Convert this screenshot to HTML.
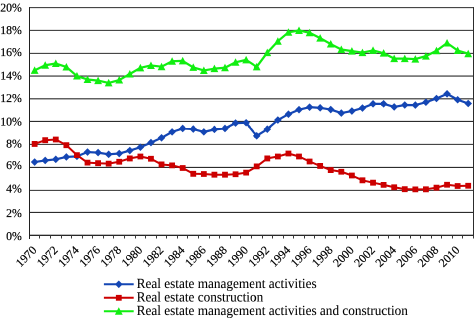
<!DOCTYPE html><html><head><meta charset="utf-8"><style>html,body{margin:0;padding:0;background:#fff;width:475px;height:319px;overflow:hidden}#clip{position:relative;width:475px;height:319px;overflow:hidden}#wrap{position:absolute;left:0;top:0;width:950px;height:638px;transform:scale(0.5);transform-origin:0 0;will-change:transform}svg{display:block}text{font-family:"Liberation Serif",serif;fill:#000;stroke:#000;stroke-width:0.18px;text-rendering:geometricPrecision}</style></head><body>
<div id="clip"><div id="wrap"><svg width="950" height="638" viewBox="0 0 475 319">
<rect width="475" height="319" fill="#fff"/>
<g>
<line x1="29" y1="235.35" x2="474" y2="235.35" stroke="#2c2c2c" stroke-width="1.1"/>
<line x1="29" y1="212.48" x2="474" y2="212.48" stroke="#2c2c2c" stroke-width="1.1"/>
<line x1="29" y1="190.38" x2="474" y2="190.38" stroke="#2c2c2c" stroke-width="1.1"/>
<line x1="29" y1="167.48" x2="474" y2="167.48" stroke="#2c2c2c" stroke-width="1.1"/>
<line x1="29" y1="144.38" x2="474" y2="144.38" stroke="#2c2c2c" stroke-width="1.1"/>
<line x1="29" y1="121.44" x2="474" y2="121.44" stroke="#2c2c2c" stroke-width="1.1"/>
<line x1="29" y1="98.82" x2="474" y2="98.82" stroke="#2c2c2c" stroke-width="1.1"/>
<line x1="29" y1="76.10" x2="474" y2="76.10" stroke="#2c2c2c" stroke-width="1.1"/>
<line x1="29" y1="53.38" x2="474" y2="53.38" stroke="#2c2c2c" stroke-width="1.1"/>
<line x1="29" y1="30.38" x2="474" y2="30.38" stroke="#2c2c2c" stroke-width="1.1"/>
<line x1="29" y1="7.63" x2="474" y2="7.63" stroke="#2c2c2c" stroke-width="1.1"/>
<line x1="473.5" y1="7.13" x2="473.5" y2="235.35" stroke="#2c2c2c" stroke-width="1"/>
<line x1="29.5" y1="7.13" x2="29.5" y2="238.95" stroke="#202020" stroke-width="1"/>
<line x1="29" y1="235.35" x2="474" y2="235.35" stroke="#202020" stroke-width="1"/>
<line x1="39.50" y1="235.35" x2="39.50" y2="238.45" stroke="#383838" stroke-width="1"/>
<line x1="50.50" y1="235.35" x2="50.50" y2="238.45" stroke="#383838" stroke-width="1"/>
<line x1="61.50" y1="235.35" x2="61.50" y2="238.45" stroke="#383838" stroke-width="1"/>
<line x1="71.50" y1="235.35" x2="71.50" y2="238.45" stroke="#383838" stroke-width="1"/>
<line x1="82.50" y1="235.35" x2="82.50" y2="238.45" stroke="#383838" stroke-width="1"/>
<line x1="92.50" y1="235.35" x2="92.50" y2="238.45" stroke="#383838" stroke-width="1"/>
<line x1="103.50" y1="235.35" x2="103.50" y2="238.45" stroke="#383838" stroke-width="1"/>
<line x1="113.50" y1="235.35" x2="113.50" y2="238.45" stroke="#383838" stroke-width="1"/>
<line x1="124.50" y1="235.35" x2="124.50" y2="238.45" stroke="#383838" stroke-width="1"/>
<line x1="135.50" y1="235.35" x2="135.50" y2="238.45" stroke="#383838" stroke-width="1"/>
<line x1="145.50" y1="235.35" x2="145.50" y2="238.45" stroke="#383838" stroke-width="1"/>
<line x1="156.50" y1="235.35" x2="156.50" y2="238.45" stroke="#383838" stroke-width="1"/>
<line x1="166.50" y1="235.35" x2="166.50" y2="238.45" stroke="#383838" stroke-width="1"/>
<line x1="177.50" y1="235.35" x2="177.50" y2="238.45" stroke="#383838" stroke-width="1"/>
<line x1="187.50" y1="235.35" x2="187.50" y2="238.45" stroke="#383838" stroke-width="1"/>
<line x1="198.50" y1="235.35" x2="198.50" y2="238.45" stroke="#383838" stroke-width="1"/>
<line x1="209.50" y1="235.35" x2="209.50" y2="238.45" stroke="#383838" stroke-width="1"/>
<line x1="219.50" y1="235.35" x2="219.50" y2="238.45" stroke="#383838" stroke-width="1"/>
<line x1="230.50" y1="235.35" x2="230.50" y2="238.45" stroke="#383838" stroke-width="1"/>
<line x1="240.50" y1="235.35" x2="240.50" y2="238.45" stroke="#383838" stroke-width="1"/>
<line x1="251.50" y1="235.35" x2="251.50" y2="238.45" stroke="#383838" stroke-width="1"/>
<line x1="262.50" y1="235.35" x2="262.50" y2="238.45" stroke="#383838" stroke-width="1"/>
<line x1="272.50" y1="235.35" x2="272.50" y2="238.45" stroke="#383838" stroke-width="1"/>
<line x1="283.50" y1="235.35" x2="283.50" y2="238.45" stroke="#383838" stroke-width="1"/>
<line x1="293.50" y1="235.35" x2="293.50" y2="238.45" stroke="#383838" stroke-width="1"/>
<line x1="304.50" y1="235.35" x2="304.50" y2="238.45" stroke="#383838" stroke-width="1"/>
<line x1="314.50" y1="235.35" x2="314.50" y2="238.45" stroke="#383838" stroke-width="1"/>
<line x1="325.50" y1="235.35" x2="325.50" y2="238.45" stroke="#383838" stroke-width="1"/>
<line x1="336.50" y1="235.35" x2="336.50" y2="238.45" stroke="#383838" stroke-width="1"/>
<line x1="346.50" y1="235.35" x2="346.50" y2="238.45" stroke="#383838" stroke-width="1"/>
<line x1="357.50" y1="235.35" x2="357.50" y2="238.45" stroke="#383838" stroke-width="1"/>
<line x1="367.50" y1="235.35" x2="367.50" y2="238.45" stroke="#383838" stroke-width="1"/>
<line x1="378.50" y1="235.35" x2="378.50" y2="238.45" stroke="#383838" stroke-width="1"/>
<line x1="388.50" y1="235.35" x2="388.50" y2="238.45" stroke="#383838" stroke-width="1"/>
<line x1="399.50" y1="235.35" x2="399.50" y2="238.45" stroke="#383838" stroke-width="1"/>
<line x1="410.50" y1="235.35" x2="410.50" y2="238.45" stroke="#383838" stroke-width="1"/>
<line x1="420.50" y1="235.35" x2="420.50" y2="238.45" stroke="#383838" stroke-width="1"/>
<line x1="431.50" y1="235.35" x2="431.50" y2="238.45" stroke="#383838" stroke-width="1"/>
<line x1="441.50" y1="235.35" x2="441.50" y2="238.45" stroke="#383838" stroke-width="1"/>
<line x1="452.50" y1="235.35" x2="452.50" y2="238.45" stroke="#383838" stroke-width="1"/>
<line x1="462.50" y1="235.35" x2="462.50" y2="238.45" stroke="#383838" stroke-width="1"/>
<line x1="473.50" y1="235.35" x2="473.50" y2="238.45" stroke="#383838" stroke-width="1"/>
<text transform="translate(21.9,239.85) scale(1.001)" font-size="11.8" text-anchor="end">0%</text>
<text transform="translate(21.9,216.95) scale(1.001)" font-size="11.8" text-anchor="end">2%</text>
<text transform="translate(21.9,192.55) scale(1.001)" font-size="11.8" text-anchor="end">4%</text>
<text transform="translate(21.9,168.75) scale(1.001)" font-size="11.8" text-anchor="end">6%</text>
<text transform="translate(21.9,147.35) scale(1.001)" font-size="11.8" text-anchor="end">8%</text>
<text transform="translate(21.9,125.45) scale(1.001)" font-size="11.8" text-anchor="end">10%</text>
<text transform="translate(21.9,102.00) scale(1.001)" font-size="11.8" text-anchor="end">12%</text>
<text transform="translate(21.9,79.25) scale(1.001)" font-size="11.8" text-anchor="end">14%</text>
<text transform="translate(21.9,56.15) scale(1.001)" font-size="11.8" text-anchor="end">16%</text>
<text transform="translate(21.9,33.85) scale(1.001)" font-size="11.8" text-anchor="end">18%</text>
<text transform="translate(21.9,11.55) scale(1.001)" font-size="11.8" text-anchor="end">20%</text>
<text transform="translate(37.34,250.8) rotate(-45)" font-size="11.9" text-anchor="end">1970</text>
<text transform="translate(58.49,250.8) rotate(-45)" font-size="11.9" text-anchor="end">1972</text>
<text transform="translate(79.64,250.8) rotate(-45)" font-size="11.9" text-anchor="end">1974</text>
<text transform="translate(100.79,250.8) rotate(-45)" font-size="11.9" text-anchor="end">1976</text>
<text transform="translate(121.94,250.8) rotate(-45)" font-size="11.9" text-anchor="end">1978</text>
<text transform="translate(143.09,250.8) rotate(-45)" font-size="11.9" text-anchor="end">1980</text>
<text transform="translate(164.24,250.8) rotate(-45)" font-size="11.9" text-anchor="end">1982</text>
<text transform="translate(185.39,250.8) rotate(-45)" font-size="11.9" text-anchor="end">1984</text>
<text transform="translate(206.54,250.8) rotate(-45)" font-size="11.9" text-anchor="end">1986</text>
<text transform="translate(227.69,250.8) rotate(-45)" font-size="11.9" text-anchor="end">1988</text>
<text transform="translate(248.84,250.8) rotate(-45)" font-size="11.9" text-anchor="end">1990</text>
<text transform="translate(269.99,250.8) rotate(-45)" font-size="11.9" text-anchor="end">1992</text>
<text transform="translate(291.14,250.8) rotate(-45)" font-size="11.9" text-anchor="end">1994</text>
<text transform="translate(312.29,250.8) rotate(-45)" font-size="11.9" text-anchor="end">1996</text>
<text transform="translate(333.44,250.8) rotate(-45)" font-size="11.9" text-anchor="end">1998</text>
<text transform="translate(354.59,250.8) rotate(-45)" font-size="11.9" text-anchor="end">2000</text>
<text transform="translate(375.74,250.8) rotate(-45)" font-size="11.9" text-anchor="end">2002</text>
<text transform="translate(396.89,250.8) rotate(-45)" font-size="11.9" text-anchor="end">2004</text>
<text transform="translate(418.04,250.8) rotate(-45)" font-size="11.9" text-anchor="end">2006</text>
<text transform="translate(439.19,250.8) rotate(-45)" font-size="11.9" text-anchor="end">2008</text>
<text transform="translate(460.34,250.8) rotate(-45)" font-size="11.9" text-anchor="end">2010</text>
<path d="M34.64,162.06 L45.21,160.47 L55.79,159.33 L66.36,156.94 L76.94,156.37 L87.51,152.04 L98.09,152.61 L108.66,154.32 L119.24,153.52 L129.81,150.56 L140.39,147.25 L150.96,142.58 L161.54,137.80 L172.11,131.87 L182.69,128.46 L193.26,129.02 L203.84,131.87 L214.41,129.37 L224.99,128.46 L235.56,123.10 L246.14,122.76 L256.71,135.86 L267.29,129.14 L277.86,120.03 L288.44,114.22 L299.01,109.66 L309.59,107.15 L320.16,107.84 L330.74,109.54 L341.31,113.08 L351.89,111.03 L362.46,108.06 L373.04,103.85 L383.61,103.85 L394.19,106.92 L404.76,104.99 L415.34,105.10 L425.91,102.25 L436.49,98.49 L447.06,93.82 L457.64,99.75 L468.21,103.51" fill="none" stroke="#1446b4" stroke-width="2.2" stroke-linejoin="round"/>
<path d="M34.64,158.26 L38.44,162.06 L34.64,165.86 L30.84,162.06Z M45.21,156.67 L49.01,160.47 L45.21,164.27 L41.41,160.47Z M55.79,155.53 L59.59,159.33 L55.79,163.13 L51.99,159.33Z M66.36,153.14 L70.16,156.94 L66.36,160.74 L62.56,156.94Z M76.94,152.57 L80.74,156.37 L76.94,160.17 L73.14,156.37Z M87.51,148.24 L91.31,152.04 L87.51,155.84 L83.71,152.04Z M98.09,148.81 L101.89,152.61 L98.09,156.41 L94.29,152.61Z M108.66,150.52 L112.46,154.32 L108.66,158.12 L104.86,154.32Z M119.24,149.72 L123.04,153.52 L119.24,157.32 L115.44,153.52Z M129.81,146.76 L133.61,150.56 L129.81,154.36 L126.01,150.56Z M140.39,143.45 L144.19,147.25 L140.39,151.05 L136.59,147.25Z M150.96,138.78 L154.76,142.58 L150.96,146.38 L147.16,142.58Z M161.54,134.00 L165.34,137.80 L161.54,141.60 L157.74,137.80Z M172.11,128.07 L175.91,131.87 L172.11,135.67 L168.31,131.87Z M182.69,124.66 L186.49,128.46 L182.69,132.26 L178.89,128.46Z M193.26,125.22 L197.06,129.02 L193.26,132.82 L189.46,129.02Z M203.84,128.07 L207.64,131.87 L203.84,135.67 L200.04,131.87Z M214.41,125.57 L218.21,129.37 L214.41,133.17 L210.61,129.37Z M224.99,124.66 L228.79,128.46 L224.99,132.26 L221.19,128.46Z M235.56,119.30 L239.36,123.10 L235.56,126.90 L231.76,123.10Z M246.14,118.96 L249.94,122.76 L246.14,126.56 L242.34,122.76Z M256.71,132.06 L260.51,135.86 L256.71,139.66 L252.91,135.86Z M267.29,125.34 L271.09,129.14 L267.29,132.94 L263.49,129.14Z M277.86,116.23 L281.66,120.03 L277.86,123.83 L274.06,120.03Z M288.44,110.42 L292.24,114.22 L288.44,118.02 L284.64,114.22Z M299.01,105.86 L302.81,109.66 L299.01,113.46 L295.21,109.66Z M309.59,103.35 L313.39,107.15 L309.59,110.95 L305.79,107.15Z M320.16,104.04 L323.96,107.84 L320.16,111.64 L316.36,107.84Z M330.74,105.74 L334.54,109.54 L330.74,113.34 L326.94,109.54Z M341.31,109.28 L345.11,113.08 L341.31,116.88 L337.51,113.08Z M351.89,107.23 L355.69,111.03 L351.89,114.83 L348.09,111.03Z M362.46,104.26 L366.26,108.06 L362.46,111.86 L358.66,108.06Z M373.04,100.05 L376.84,103.85 L373.04,107.65 L369.24,103.85Z M383.61,100.05 L387.41,103.85 L383.61,107.65 L379.81,103.85Z M394.19,103.12 L397.99,106.92 L394.19,110.72 L390.39,106.92Z M404.76,101.19 L408.56,104.99 L404.76,108.79 L400.96,104.99Z M415.34,101.30 L419.14,105.10 L415.34,108.90 L411.54,105.10Z M425.91,98.45 L429.71,102.25 L425.91,106.05 L422.11,102.25Z M436.49,94.69 L440.29,98.49 L436.49,102.29 L432.69,98.49Z M447.06,90.02 L450.86,93.82 L447.06,97.62 L443.26,93.82Z M457.64,95.95 L461.44,99.75 L457.64,103.55 L453.84,99.75Z M468.21,99.71 L472.01,103.51 L468.21,107.31 L464.41,103.51Z" fill="#1446b4"/>
<path d="M34.64,143.95 L45.21,140.19 L55.79,139.51 L66.36,145.20 L76.94,155.11 L87.51,162.63 L98.09,163.20 L108.66,163.66 L119.24,161.72 L129.81,158.42 L140.39,156.48 L150.96,158.76 L161.54,164.45 L172.11,165.37 L182.69,167.99 L193.26,173.80 L203.84,174.02 L214.41,174.71 L224.99,174.71 L235.56,174.25 L246.14,172.66 L256.71,166.39 L267.29,158.42 L277.86,156.48 L288.44,153.52 L299.01,156.48 L309.59,161.49 L320.16,165.93 L330.74,170.04 L341.31,171.74 L351.89,175.50 L362.46,180.29 L373.04,182.68 L383.61,184.85 L394.19,187.24 L404.76,189.17 L415.34,189.40 L425.91,189.29 L436.49,187.69 L447.06,184.73 L457.64,185.98 L468.21,185.76" fill="none" stroke="#cc0000" stroke-width="2.0" stroke-linejoin="round"/>
<path d="M31.74,141.05 h5.8 v5.8 h-5.8Z M42.31,137.29 h5.8 v5.8 h-5.8Z M52.89,136.61 h5.8 v5.8 h-5.8Z M63.46,142.30 h5.8 v5.8 h-5.8Z M74.04,152.21 h5.8 v5.8 h-5.8Z M84.61,159.73 h5.8 v5.8 h-5.8Z M95.19,160.30 h5.8 v5.8 h-5.8Z M105.76,160.76 h5.8 v5.8 h-5.8Z M116.34,158.82 h5.8 v5.8 h-5.8Z M126.91,155.52 h5.8 v5.8 h-5.8Z M137.49,153.58 h5.8 v5.8 h-5.8Z M148.06,155.86 h5.8 v5.8 h-5.8Z M158.64,161.55 h5.8 v5.8 h-5.8Z M169.21,162.47 h5.8 v5.8 h-5.8Z M179.79,165.09 h5.8 v5.8 h-5.8Z M190.36,170.90 h5.8 v5.8 h-5.8Z M200.94,171.12 h5.8 v5.8 h-5.8Z M211.51,171.81 h5.8 v5.8 h-5.8Z M222.09,171.81 h5.8 v5.8 h-5.8Z M232.66,171.35 h5.8 v5.8 h-5.8Z M243.24,169.76 h5.8 v5.8 h-5.8Z M253.81,163.49 h5.8 v5.8 h-5.8Z M264.39,155.52 h5.8 v5.8 h-5.8Z M274.96,153.58 h5.8 v5.8 h-5.8Z M285.54,150.62 h5.8 v5.8 h-5.8Z M296.11,153.58 h5.8 v5.8 h-5.8Z M306.69,158.59 h5.8 v5.8 h-5.8Z M317.26,163.03 h5.8 v5.8 h-5.8Z M327.84,167.14 h5.8 v5.8 h-5.8Z M338.41,168.84 h5.8 v5.8 h-5.8Z M348.99,172.60 h5.8 v5.8 h-5.8Z M359.56,177.39 h5.8 v5.8 h-5.8Z M370.14,179.78 h5.8 v5.8 h-5.8Z M380.71,181.95 h5.8 v5.8 h-5.8Z M391.29,184.34 h5.8 v5.8 h-5.8Z M401.86,186.27 h5.8 v5.8 h-5.8Z M412.44,186.50 h5.8 v5.8 h-5.8Z M423.01,186.39 h5.8 v5.8 h-5.8Z M433.59,184.79 h5.8 v5.8 h-5.8Z M444.16,181.83 h5.8 v5.8 h-5.8Z M454.74,183.08 h5.8 v5.8 h-5.8Z M465.31,182.86 h5.8 v5.8 h-5.8Z" fill="#cc0000"/>
<path d="M34.64,70.36 L45.21,65.23 L55.79,63.52 L66.36,66.94 L76.94,76.05 L87.51,79.47 L98.09,80.61 L108.66,82.89 L119.24,80.04 L129.81,74.00 L140.39,67.85 L150.96,65.46 L161.54,66.71 L172.11,61.24 L182.69,60.90 L193.26,67.39 L203.84,70.47 L214.41,68.65 L224.99,67.74 L235.56,62.27 L246.14,59.88 L256.71,66.82 L267.29,52.58 L277.86,41.19 L288.44,32.31 L299.01,30.48 L309.59,32.76 L320.16,38.12 L330.74,44.04 L341.31,49.51 L351.89,51.10 L362.46,52.58 L373.04,50.42 L383.61,53.15 L394.19,58.62 L404.76,58.62 L415.34,59.08 L425.91,56.12 L436.49,50.76 L447.06,43.02 L457.64,50.53 L468.21,53.72" fill="none" stroke="#11ee11" stroke-width="2.2" stroke-linejoin="round"/>
<path d="M34.64,66.36 L38.54,73.86 L30.74,73.86Z M45.21,61.23 L49.11,68.73 L41.31,68.73Z M55.79,59.52 L59.69,67.02 L51.89,67.02Z M66.36,62.94 L70.26,70.44 L62.46,70.44Z M76.94,72.05 L80.84,79.55 L73.04,79.55Z M87.51,75.47 L91.41,82.97 L83.61,82.97Z M98.09,76.61 L101.99,84.11 L94.19,84.11Z M108.66,78.89 L112.56,86.39 L104.76,86.39Z M119.24,76.04 L123.14,83.54 L115.34,83.54Z M129.81,70.00 L133.71,77.50 L125.91,77.50Z M140.39,63.85 L144.29,71.35 L136.49,71.35Z M150.96,61.46 L154.86,68.96 L147.06,68.96Z M161.54,62.71 L165.44,70.21 L157.64,70.21Z M172.11,57.24 L176.01,64.74 L168.21,64.74Z M182.69,56.90 L186.59,64.40 L178.79,64.40Z M193.26,63.39 L197.16,70.89 L189.36,70.89Z M203.84,66.47 L207.74,73.97 L199.94,73.97Z M214.41,64.65 L218.31,72.15 L210.51,72.15Z M224.99,63.74 L228.89,71.24 L221.09,71.24Z M235.56,58.27 L239.46,65.77 L231.66,65.77Z M246.14,55.88 L250.04,63.38 L242.24,63.38Z M256.71,62.82 L260.61,70.32 L252.81,70.32Z M267.29,48.58 L271.19,56.08 L263.39,56.08Z M277.86,37.19 L281.76,44.69 L273.96,44.69Z M288.44,28.31 L292.34,35.81 L284.54,35.81Z M299.01,26.48 L302.91,33.98 L295.11,33.98Z M309.59,28.76 L313.49,36.26 L305.69,36.26Z M320.16,34.12 L324.06,41.62 L316.26,41.62Z M330.74,40.04 L334.64,47.54 L326.84,47.54Z M341.31,45.51 L345.21,53.01 L337.41,53.01Z M351.89,47.10 L355.79,54.60 L347.99,54.60Z M362.46,48.58 L366.36,56.08 L358.56,56.08Z M373.04,46.42 L376.94,53.92 L369.14,53.92Z M383.61,49.15 L387.51,56.65 L379.71,56.65Z M394.19,54.62 L398.09,62.12 L390.29,62.12Z M404.76,54.62 L408.66,62.12 L400.86,62.12Z M415.34,55.08 L419.24,62.58 L411.44,62.58Z M425.91,52.12 L429.81,59.62 L422.01,59.62Z M436.49,46.76 L440.39,54.26 L432.59,54.26Z M447.06,39.02 L450.96,46.52 L443.16,46.52Z M457.64,46.53 L461.54,54.03 L453.74,54.03Z M468.21,49.72 L472.11,57.22 L464.31,57.22Z" fill="#11ee11"/>
<line x1="103.9" y1="284.3" x2="133.7" y2="284.3" stroke="#1446b4" stroke-width="2"/>
<path d="M118.80,280.50 L122.60,284.30 L118.80,288.10 L115.00,284.30Z" fill="#1446b4"/>
<text transform="translate(136.6,288.20) scale(0.947,1)" font-size="14" style="stroke-width:0.06px">Real estate management activities</text>
<line x1="103.9" y1="297.8" x2="133.7" y2="297.8" stroke="#cc0000" stroke-width="2"/>
<path d="M115.90,294.90 h5.8 v5.8 h-5.8Z" fill="#cc0000"/>
<text transform="translate(136.6,301.70) scale(0.947,1)" font-size="14" style="stroke-width:0.06px">Real estate construction</text>
<line x1="103.9" y1="311.2" x2="133.7" y2="311.2" stroke="#11ee11" stroke-width="2"/>
<path d="M118.80,307.20 L122.70,314.70 L114.90,314.70Z" fill="#11ee11"/>
<text transform="translate(136.6,315.10) scale(0.947,1)" font-size="14" style="stroke-width:0.06px">Real estate management activities and construction</text>
</g></svg></div></div></body></html>
